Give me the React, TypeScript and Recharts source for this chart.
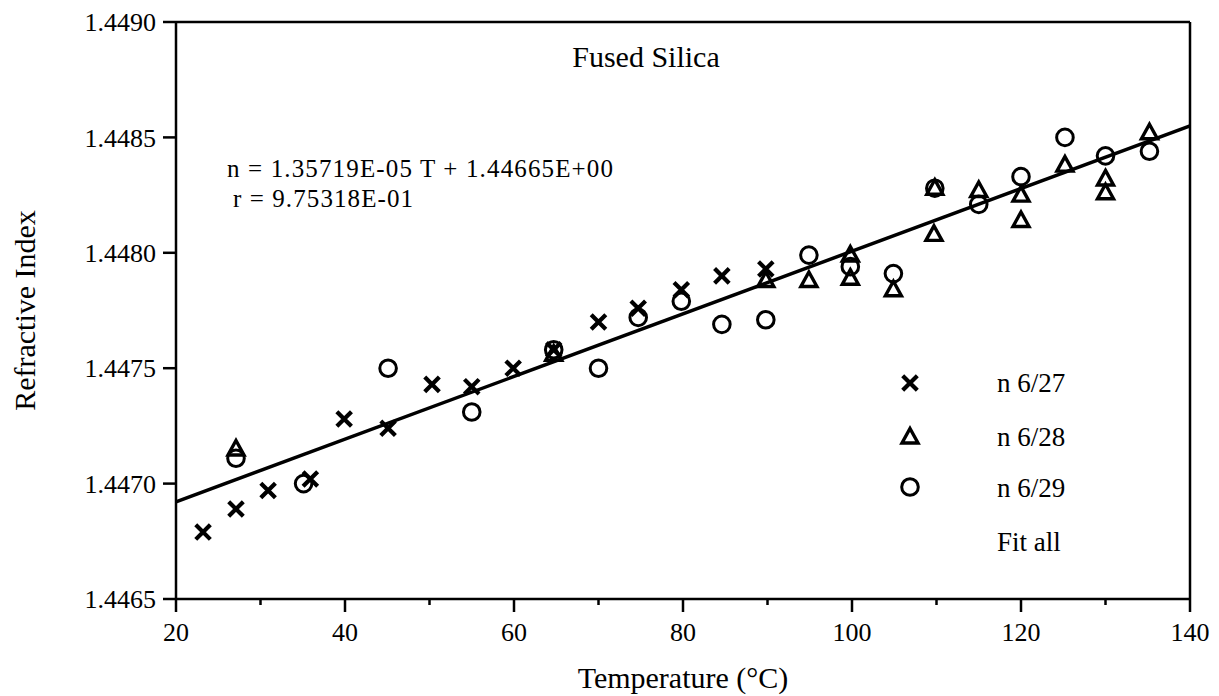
import React from 'react';
import { ScatterChart, Scatter, XAxis, YAxis, ReferenceLine, Legend } from 'recharts';

const FONT = '"Liberation Serif", "Times New Roman", Times, serif';

const xTicks = [20, 30, 40, 50, 60, 70, 80, 90, 100, 110, 120, 130, 140];
const yTicks = [1.4465, 1.447, 1.4475, 1.448, 1.4485, 1.449];

// n 6/27 (crosses)
const t627 = [23.2, 27.1, 30.9, 35.9, 39.9, 45.1, 50.3, 55.0, 59.9, 64.7, 70.0, 74.7, 79.8, 84.6, 89.8];
const n627 = [1.44679, 1.44689, 1.44697, 1.44702, 1.44728, 1.44724, 1.44743, 1.44742, 1.4475, 1.44758, 1.4477, 1.44776, 1.44784, 1.4479, 1.44793];

// n 6/28 (triangles)
const t628 = [27.1, 64.7, 89.8, 94.9, 99.8, 99.8, 104.9, 109.7, 109.8, 115.0, 120.0, 120.0, 125.2, 130.0, 130.0, 135.2];
const n628 = [1.44715, 1.44756, 1.44788, 1.44788, 1.44799, 1.44789, 1.44784, 1.44808, 1.44828, 1.44827, 1.44825, 1.44814, 1.44838, 1.44832, 1.44826, 1.44852];

// n 6/29 (circles)
const t629 = [27.1, 35.1, 45.1, 55.0, 64.7, 70.0, 74.7, 79.8, 84.6, 89.8, 94.9, 99.8, 104.9, 109.8, 115.0, 120.0, 125.2, 130.0, 135.2];
const n629 = [1.44711, 1.447, 1.4475, 1.44731, 1.44758, 1.4475, 1.44772, 1.44779, 1.44769, 1.44771, 1.44799, 1.44794, 1.44791, 1.44828, 1.44821, 1.44833, 1.4485, 1.44842, 1.44844];

// Fit all: n = 1.35719E-05 T + 1.44665E+00, endpoints
const fitT = [20, 140];
const fitN = [1.446921, 1.44855];

const seriesNames = ['n 6/27', 'n 6/28', 'n 6/29', 'Fit all'];

const toPoints = (ts: number[], ns: number[]) => ts.map((t, i) => ({ t, n: ns[i] }));

const data627 = toPoints(t627, n627);
const data628 = toPoints(t628, n628);
const data629 = toPoints(t629, n629);
const dataFit = toPoints(fitT, fitN);

const crossPath = (cx: number, cy: number, s: number) =>
  `M${cx - s},${cy - s}L${cx + s},${cy + s}M${cx - s},${cy + s}L${cx + s},${cy - s}`;
const triPath = (cx: number, cy: number) =>
  `M${cx},${cy - 8.5}L${cx + 8},${cy + 6}L${cx - 8},${cy + 6}Z`;

const CrossShape = (props: any) => {
  const { cx, cy } = props;
  return <path d={crossPath(cx, cy, 7.3)} stroke="#000" strokeWidth={4.2} fill="none" />;
};
const TriShape = (props: any) => {
  const { cx, cy } = props;
  return <path d={triPath(cx, cy)} stroke="#000" strokeWidth={3.4} fill="none" strokeLinejoin="miter" />;
};
const CircShape = (props: any) => {
  const { cx, cy } = props;
  return <circle cx={cx} cy={cy} r={8.3} stroke="#000" strokeWidth={3} fill="none" />;
};
const NoShape = () => <g />;

const XTick = (props: any) => {
  const { x, y, payload } = props;
  const major = payload.value % 20 === 0;
  return (
    <g>
      <line x1={x} y1={y} x2={x} y2={y + (major ? 13 : 6)} stroke="#000" strokeWidth={2.5} />
      {major && (
        <text x={x} y={y + 42} textAnchor="middle" fontFamily={FONT} fontSize={26} fill="#000">
          {payload.value}
        </text>
      )}
    </g>
  );
};

const LegendContent = () => (
  <svg width={240} height={210} style={{ overflow: 'visible' }}>
    <path d={crossPath(30, 28, 7.3)} stroke="#000" strokeWidth={4.2} fill="none" />
    <path d={triPath(30, 82)} stroke="#000" strokeWidth={3.4} fill="none" />
    <circle cx={30} cy={132} r={8.3} stroke="#000" strokeWidth={3} fill="none" />
    <text x={117} y={37} fontFamily={FONT} fontSize={27} fill="#000">{seriesNames[0]}</text>
    <text x={117} y={91} fontFamily={FONT} fontSize={27} fill="#000">{seriesNames[1]}</text>
    <text x={117} y={142} fontFamily={FONT} fontSize={27} fill="#000">{seriesNames[2]}</text>
    <text x={117} y={196} fontFamily={FONT} fontSize={27} fill="#000">{seriesNames[3]}</text>
  </svg>
);

export default function App() {
  return (
    <div style={{ position: 'absolute', left: 0, top: 0, width: 1219, height: 696, background: '#fff' }}>
      <ScatterChart width={1219} height={696} margin={{ top: 22, right: 29, bottom: 0, left: 0 }}>
        <XAxis
          type="number"
          dataKey="t"
          domain={[20, 140]}
          ticks={xTicks}
          interval={0}
          height={97}
          tickSize={0}
          tickMargin={0}
          tickLine={false}
          tick={<XTick />}
          axisLine={{ stroke: '#000', strokeWidth: 2.5 }}
          allowDataOverflow
          label={{
            value: 'Temperature (°C)',
            position: 'insideBottom',
            offset: 8,
            style: { fontFamily: FONT, fontSize: 30, fill: '#000' },
          }}
        />
        <YAxis
          type="number"
          dataKey="n"
          domain={[1.4465, 1.449]}
          ticks={yTicks}
          interval={0}
          width={176}
          tickFormatter={(v: number) => v.toFixed(4)}
          tick={{ fontFamily: FONT, fontSize: 26, fill: '#000' }}
          tickSize={13}
          tickMargin={7}
          tickLine={{ stroke: '#000', strokeWidth: 2.5 }}
          axisLine={{ stroke: '#000', strokeWidth: 2.5 }}
          allowDataOverflow
          label={{
            value: 'Refractive Index',
            angle: -90,
            position: 'insideLeft',
            offset: 24,
            style: { textAnchor: 'middle', fontFamily: FONT, fontSize: 30, fill: '#000' },
          }}
        />
        <ReferenceLine y={1.449} stroke="#000" strokeWidth={2.5} />
        <ReferenceLine x={140} stroke="#000" strokeWidth={2.5} />
        <Legend
          layout="vertical"
          align="center"
          verticalAlign="middle"
          content={<LegendContent />}
          wrapperStyle={{ position: 'absolute', left: 880, top: 355, width: 240, height: 210 }}
        />
        <Scatter
          name={seriesNames[3]}
          data={dataFit}
          line={{ stroke: '#000', strokeWidth: 3.5 }}
          lineType="joint"
          shape={<NoShape />}
          isAnimationActive={false}
        />
        <Scatter name={seriesNames[0]} data={data627} shape={<CrossShape />} isAnimationActive={false} />
        <Scatter name={seriesNames[1]} data={data628} shape={<TriShape />} isAnimationActive={false} />
        <Scatter name={seriesNames[2]} data={data629} shape={<CircShape />} isAnimationActive={false} />
      </ScatterChart>
      <svg
        width={1219}
        height={696}
        style={{ position: 'absolute', left: 0, top: 0, pointerEvents: 'none' }}
      >
        <text x={646} y={67} textAnchor="middle" fontFamily={FONT} fontSize={30} fill="#000">
          Fused Silica
        </text>
        <text x={227} y={177} fontFamily={FONT} fontSize={25} fill="#000" textLength={386} lengthAdjust="spacing">
          n = 1.35719E-05 T + 1.44665E+00
        </text>
        <text x={233} y={207} fontFamily={FONT} fontSize={25} fill="#000" textLength={180} lengthAdjust="spacing">
          r = 9.75318E-01
        </text>
      </svg>
    </div>
  );
}
